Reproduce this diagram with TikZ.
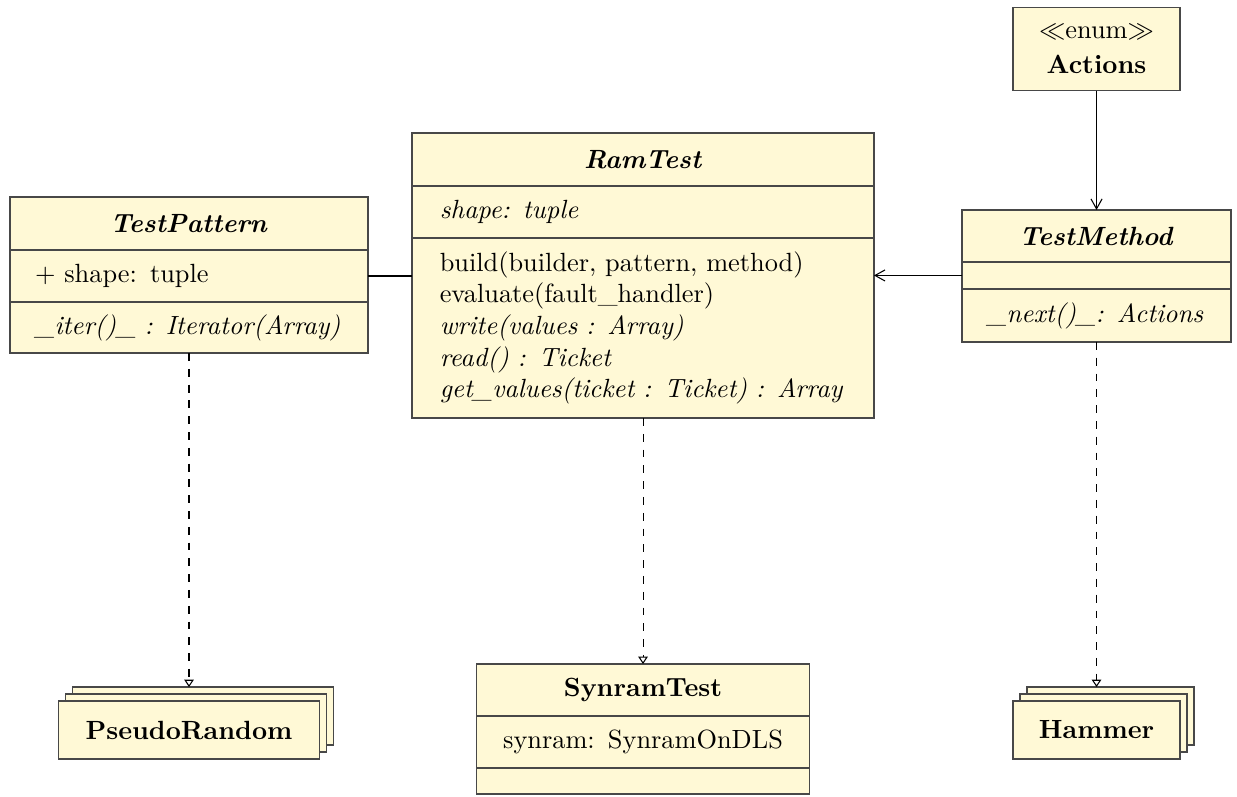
\documentclass[tikz,border=0pt]{standalone}
\usepackage{amsmath, amssymb}
\usepackage{xcolor}
\definecolor{UMLfill}{HTML}{FFF9D6}
\definecolor{UMLline}{HTML}{484848}
\usetikzlibrary{arrows.meta, positioning}

\begin{document}
\begin{tikzpicture}
  \tikzset{
  umlbox/.style={rectangle, draw=UMLline, fill=UMLfill, line width=0.5pt,
    inner xsep=9.5pt, inner ysep=2pt, outer sep=0pt},
  umlhead/.style={umlbox, align=center, font=\bfseries},
  umlpart/.style={umlbox, align=left},
  umlcpart/.style={umlbox, align=center},
  assoc/.style={black, line width=0.4pt},
  navig/.style={assoc, -{Straight Barb[length=3.8pt, width=4.2pt]}},
  realize/.style={assoc, dashed, -{Triangle[open, length=2.8pt, width=3.6pt]}},
}
\useasboundingbox (0,0) rectangle (16.511, 10.625);

% ── TestPattern (abstract) ───────────────────────────────────
\node[umlhead, text width=4.109cm, minimum height=0.707cm, anchor=north]
  (tp) at (2.523, 7.995) {\textit{TestPattern}};
\node[umlpart, text width=4.109cm, minimum height=0.694cm, below=0pt of tp]
  (tpattr) {$+$ shape: tuple};
\node[umlpart, text width=4.109cm, minimum height=0.681cm, below=0pt of tpattr]
  (tpmeth) {\textit{\_iter()\_ : Iterator(Array)}};

% ── RamTest (abstract) ───────────────────────────────────────
\node[umlhead, text width=5.426cm, inner xsep=10.5pt, minimum height=0.707cm,
  anchor=north] (rt) at (8.583, 8.850) {\textit{RamTest}};
\node[umlpart, text width=5.426cm, inner xsep=10.5pt, minimum height=0.694cm,
  below=0pt of rt] (rtattr) {\textit{shape: tuple}};
\node[umlpart, text width=5.426cm, inner xsep=10.5pt, minimum height=2.403cm,
  below=0pt of rtattr] (rtmeth) {build(builder, pattern, method)\\
            evaluate(fault\_handler)\\
            \textit{write(values : Array)}\\
            \textit{read() : Ticket}\\
            \textit{get\_values(ticket : Ticket) : Array}};

% ── TestMethod (abstract) ────────────────────────────────────
\node[umlhead, text width=2.921cm, minimum height=0.694cm, anchor=north]
  (tm) at (14.636, 7.822) {\textit{TestMethod}};
\node[umlpart, text width=2.921cm, minimum height=0.360cm, below=0pt of tm]
  (tmattr) {};
\node[umlpart, text width=2.921cm, minimum height=0.707cm, below=0pt of tmattr]
  (tmmeth) {\textit{\_next()\_: Actions}};

% ── Actions (enum) ───────────────────────────────────────────
\node[umlcpart, text width=1.559cm, minimum height=1.113cm, anchor=north]
  (act) at (14.636, 10.528) {$\ll$enum$\gg$\\[1pt]\textbf{Actions}};

% ── SynramTest ───────────────────────────────────────────────
\node[umlhead, text width=3.775cm, minimum height=0.694cm, anchor=north]
  (sr) at (8.583, 1.762) {SynramTest};
\node[umlcpart, text width=3.775cm, minimum height=0.694cm, below=0pt of sr]
  (srattr) {synram: SynramOnDLS};
\node[umlcpart, text width=3.775cm, minimum height=0.347cm, below=0pt of srattr]
  (srmeth) {};

% ── PseudoRandom (several) ───────────────────────────────────
\node[umlhead, text width=2.814cm, minimum height=0.774cm] (pr2) at (2.709, 1.067) {};
\node[umlhead, text width=2.814cm, minimum height=0.774cm] (pr1) at (2.616, 0.974) {};
\node[umlhead, text width=2.814cm, minimum height=0.774cm] (pr)  at (2.523, 0.881) {PseudoRandom};

% ── Hammer (several) ─────────────────────────────────────────
\node[umlhead, text width=1.559cm, minimum height=0.774cm] (hm2) at (14.822, 1.067) {};
\node[umlhead, text width=1.559cm, minimum height=0.774cm] (hm1) at (14.729, 0.974) {};
\node[umlhead, text width=1.559cm, minimum height=0.774cm] (hm)  at (14.636, 0.881) {Hammer};

% ── Associations ─────────────────────────────────────────────
\draw[assoc] (tpattr.east) -- (tpattr.east -| rtmeth.west);
\draw[navig] (tmattr.west) -- (tmattr.west -| rtmeth.east);
\draw[navig] (act.south) -- (tm.north);

% ── Realizations ─────────────────────────────────────────────
\draw[realize] (tpmeth.south) -- (tpmeth.south |- pr2.north);
\draw[realize] (rtmeth.south) -- (sr.north);
\draw[realize] (tmmeth.south) -- (tmmeth.south |- hm2.north);

\end{tikzpicture}
\end{document}
